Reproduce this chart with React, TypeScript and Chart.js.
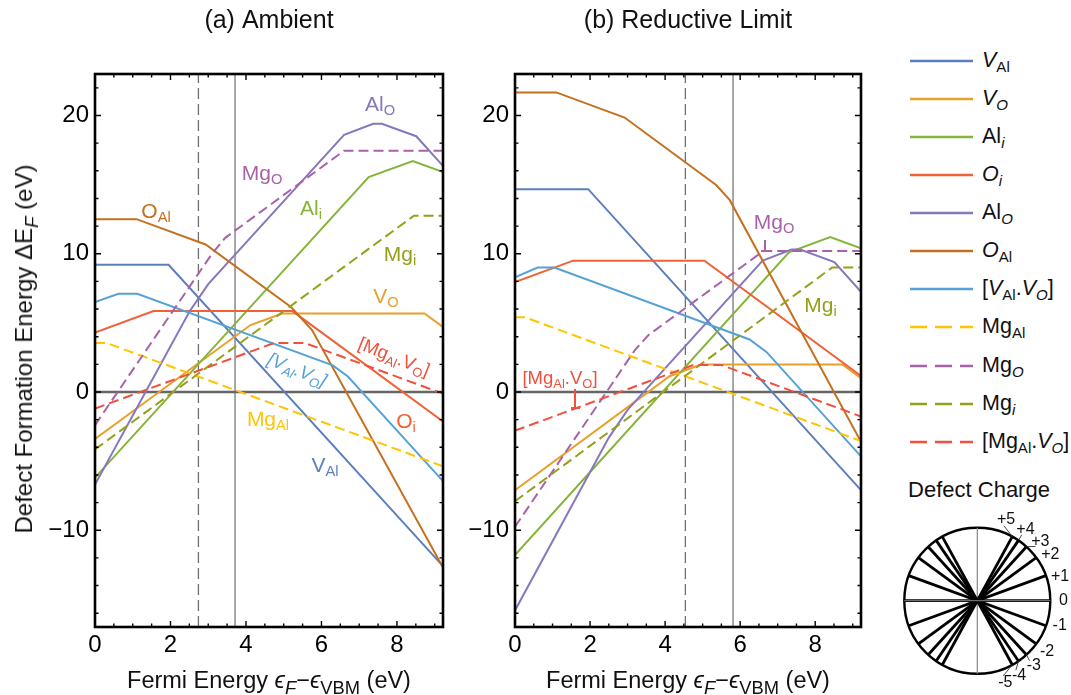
import React, { useEffect, useRef } from "react";
import { Chart, registerables } from "chart.js";

Chart.register(...registerables);

const FONT = '"Liberation Sans", Arial, Helvetica, sans-serif';

// ---------- axes ----------
const X_MIN = 0;
const X_MAX = 9.22;
const Y_MIN = -17;
const Y_MAX = 23;
const X_TICKS = [0, 2, 4, 6, 8];
const Y_TICKS = [-10, 0, 10, 20];
const X_MINOR_STEP = 0.5;
const Y_MINOR_STEP = 2;

// ---------- series ----------
const SERIES_NAMES = ["V_Al", "V_O", "Al_i", "O_i", "Al_O", "O_Al", "[V_Al.V_O]", "Mg_Al", "Mg_O", "Mg_i", "[Mg_Al.V_O]"];
const SERIES_COLORS = ["#5B7EBD", "#E8A02A", "#86B43A", "#F06236", "#8778BE", "#C4701E", "#56A2D4", "#FFC400", "#A863A8", "#95A01A", "#F0503C"];
const SERIES_DASHED = [false, false, false, false, false, false, false, true, true, true, true];

// ---------- (a) Ambient : [Fermi energy, formation energy] vertices ----------
const A_VAl = [[0, 9.2], [1.95, 9.2], [9.22, -12.6]];
const A_VO = [[0, -3.4], [4.12, 4.84], [4.96, 5.68], [8.73, 5.68], [9.22, 4.7]];
const A_Ali = [[0, -6.2], [7.25, 15.55], [8.42, 16.7], [9.22, 15.9]];
const A_Oi = [[0, 4.3], [1.55, 5.85], [5.23, 5.85], [9.22, -2.13]];
const A_AlO = [[0, -6.7], [2.5, 5.8], [3.0, 7.8], [6.6, 18.6], [7.37, 19.4], [7.6, 19.4], [8.51, 18.5], [9.22, 16.35]];
const A_OAl = [[0, 12.5], [1.1, 12.5], [2.93, 10.67], [5.2, 6.13], [5.75, 4.48], [9.22, -12.7]];
const A_VAlVO = [[0, 6.5], [0.62, 7.1], [1.12, 7.1], [6.3, 1.92], [6.7, 1.12], [9.22, -6.45]];
const A_MgAl = [[0, 3.55], [0.3, 3.55], [9.22, -5.37]];
const A_MgO = [[0, -2.4], [3.1, 10.0], [3.45, 11.15], [6.6, 17.45], [9.22, 17.45]];
const A_Mgi = [[0, -4.15], [8.45, 12.75], [9.22, 12.75]];
const A_MgAlVO = [[0, -1.2], [4.75, 3.55], [5.55, 3.55], [9.22, -0.12]];
const A_FERMI_DASHED = 2.74;
const A_FERMI_SOLID = 3.71;

// ---------- (b) Reductive limit ----------
const B_VAl = [[0, 14.67], [1.95, 14.67], [9.22, -7.1]];
const B_VO = [[0, -7.1], [4.12, 1.14], [4.96, 1.98], [8.73, 1.98], [9.22, 1.0]];
const B_Ali = [[0, -11.8], [7.3, 10.1], [8.4, 11.2], [9.22, 10.4]];
const B_Oi = [[0, 7.95], [1.55, 9.5], [5.05, 9.5], [9.22, 1.16]];
const B_AlO = [[0, -15.8], [2.5, -3.3], [3.0, -1.3], [6.6, 9.5], [7.37, 10.3], [7.6, 10.3], [8.51, 9.4], [9.22, 7.25]];
const B_OAl = [[0, 21.67], [1.1, 21.67], [2.92, 19.85], [5.36, 14.97], [5.72, 13.89], [9.22, -3.6]];
const B_VAlVO = [[0, 8.3], [0.6, 9.0], [1.05, 9.0], [6.25, 3.8], [6.7, 2.9], [9.22, -4.66]];
const B_MgAl = [[0, 5.4], [0.27, 5.4], [9.22, -3.55]];
const B_MgO = [[0, -9.75], [3.2, 3.05], [3.55, 4.1], [6.62, 10.2], [9.22, 10.2]];
const B_Mgi = [[0, -7.9], [8.45, 9.0], [9.22, 9.0]];
const B_MgAlVO = [[0, -2.8], [4.75, 1.95], [5.5, 1.95], [9.22, -1.77]];
const B_FERMI_DASHED = 4.54;
const B_FERMI_SOLID = 5.81;

const A_DATA = [A_VAl, A_VO, A_Ali, A_Oi, A_AlO, A_OAl, A_VAlVO, A_MgAl, A_MgO, A_Mgi, A_MgAlVO];
const B_DATA = [B_VAl, B_VO, B_Ali, B_Oi, B_AlO, B_OAl, B_VAlVO, B_MgAl, B_MgO, B_Mgi, B_MgAlVO];

// ---------- defect charge key ----------
const CHARGES = [5, 4, 3, 2, 1, 0, -1, -2, -3, -4, -5];
const CHARGE_LABELS = ["+5", "+4", "+3", "+2", "+1", "0", "-1", "-2", "-3", "-4", "-5"];
const CHARGE_LABEL_DEG = [70.5, 56, 43, 32, 16, 0, -17, -36, -49, -61, -71];

const fmtTick = (v: number) => (v < 0 ? "\u2212" + Math.abs(v) : String(v));

const MAJOR_LEN = 6;
const MINOR_LEN = 3.5;

const framePlugin = {
  id: "frame",
  afterDatasetsDraw(chart: any) {
    const { ctx, chartArea } = chart;
    const { left, right, top, bottom } = chartArea;
    const xs = chart.scales.x;
    const ys = chart.scales.y;
    ctx.save();
    ctx.strokeStyle = "#000";
    ctx.lineWidth = 1.4;
    ctx.beginPath();
    for (let v = X_MIN; v <= X_MAX + 1e-9; v += X_MINOR_STEP) {
      const p = xs.getPixelForValue(v);
      const len = X_TICKS.some((t) => Math.abs(t - v) < 1e-6) ? MAJOR_LEN : MINOR_LEN;
      ctx.moveTo(p, bottom);
      ctx.lineTo(p, bottom - len);
      ctx.moveTo(p, top);
      ctx.lineTo(p, top + len);
    }
    for (let v = Math.ceil(Y_MIN / Y_MINOR_STEP) * Y_MINOR_STEP; v <= Y_MAX + 1e-9; v += Y_MINOR_STEP) {
      const p = ys.getPixelForValue(v);
      const len = Y_TICKS.some((t) => Math.abs(t - v) < 1e-6) ? MAJOR_LEN : MINOR_LEN;
      ctx.moveTo(left, p);
      ctx.lineTo(left + len, p);
      ctx.moveTo(right, p);
      ctx.lineTo(right - len, p);
    }
    ctx.stroke();
    ctx.lineWidth = 2.6;
    ctx.strokeRect(left, top, right - left, bottom - top);
    ctx.restore();
  },
};

function panelConfig(title: string, data: number[][][], dashedX: number, solidX: number, rightPad: number, yWidth: number) {
  const datasets: any[] = data.map((pts, i) => ({
    label: SERIES_NAMES[i],
    data: pts.map(([x, y]) => ({ x, y })),
    borderColor: SERIES_COLORS[i],
    backgroundColor: SERIES_COLORS[i],
    borderWidth: 2,
    borderDash: SERIES_DASHED[i] ? [10, 5] : [],
    pointRadius: 0,
    showLine: true,
    fill: false,
    tension: 0,
    order: 50 - i,
  }));
  datasets.push({
    label: "zero",
    data: [{ x: X_MIN, y: 0 }, { x: X_MAX, y: 0 }],
    borderColor: "#666",
    borderWidth: 2.4,
    pointRadius: 0,
    showLine: true,
    order: 100,
  });
  datasets.push({
    label: "fermi dashed",
    data: [{ x: dashedX, y: Y_MIN }, { x: dashedX, y: Y_MAX }],
    borderColor: "#707070",
    borderWidth: 1.3,
    borderDash: [11, 5],
    pointRadius: 0,
    showLine: true,
    order: 100,
  });
  datasets.push({
    label: "fermi solid",
    data: [{ x: solidX, y: Y_MIN }, { x: solidX, y: Y_MAX }],
    borderColor: "#606060",
    borderWidth: 1.1,
    pointRadius: 0,
    showLine: true,
    order: 100,
  });
  return {
    type: "scatter" as const,
    data: { datasets },
    options: {
      animation: false as const,
      responsive: false,
      events: [] as any[],
      layout: { padding: { left: 0, right: rightPad, top: 0, bottom: 0 } },
      plugins: {
        legend: { display: false },
        tooltip: { enabled: false },
        title: {
          display: true,
          text: title,
          fullSize: false,
          color: "#111",
          font: { family: FONT, size: 25, weight: "normal" as const, lineHeight: 1.2 },
          padding: { top: 6.5, bottom: 37.5 },
        },
      },
      scales: {
        x: {
          type: "linear" as const,
          min: X_MIN,
          max: X_MAX,
          grid: { display: false, drawTicks: false },
          border: { display: false },
          afterBuildTicks: (s: any) => {
            s.ticks = X_TICKS.map((v) => ({ value: v }));
          },
          afterFit: (s: any) => {
            s.height = 68;
          },
          ticks: {
            color: "#000",
            font: { family: FONT, size: 24 },
            padding: 4,
            maxRotation: 0,
            autoSkip: false,
            callback: (v: any) => fmtTick(Number(v)),
          },
        },
        y: {
          type: "linear" as const,
          min: Y_MIN,
          max: Y_MAX,
          grid: { display: false, drawTicks: false },
          border: { display: false },
          afterBuildTicks: (s: any) => {
            s.ticks = Y_TICKS.map((v) => ({ value: v }));
          },
          afterFit: (s: any) => {
            s.width = yWidth;
          },
          ticks: {
            color: "#000",
            font: { family: FONT, size: 24 },
            padding: 6,
            autoSkip: false,
            callback: (v: any) => fmtTick(Number(v)),
          },
        },
      },
    },
    plugins: [framePlugin],
  };
}

// defect-charge key geometry (layout)
const KEY_LEFT = 880;
const KEY_TOP = 505;
const KEY_W = 191;
const KEY_H = 190;
const KEY_CX = 977.3;
const KEY_CY = 600.7;
const KEY_R = 73;
const KEY_LABEL_DIST = 1.18;

function keyConfig(aspect: number) {
  const datasets: any[] = CHARGES.map((q) => {
    const t = Math.atan(q * aspect);
    return {
      label: "q" + q,
      data: [
        { x: -Math.cos(t), y: -Math.sin(t) },
        { x: Math.cos(t), y: Math.sin(t) },
      ],
      borderColor: "#000",
      borderWidth: 2.8,
      pointRadius: 0,
      showLine: true,
    };
  });
  const keyPlugin = {
    id: "key",
    beforeDatasetsDraw(chart: any) {
      const { ctx } = chart;
      const xs = chart.scales.x;
      const ys = chart.scales.y;
      const cx = xs.getPixelForValue(0);
      const cy = ys.getPixelForValue(0);
      const r = xs.getPixelForValue(1) - cx;
      ctx.save();
      ctx.strokeStyle = "#000";
      ctx.lineWidth = 2.4;
      ctx.beginPath();
      ctx.arc(cx, cy, r, 0, Math.PI * 2);
      ctx.stroke();
      ctx.strokeStyle = "#888";
      ctx.lineWidth = 1.2;
      ctx.beginPath();
      ctx.moveTo(cx, cy - r);
      ctx.lineTo(cx, cy + r);
      ctx.stroke();
      ctx.restore();
    },
    afterDatasetsDraw(chart: any) {
      const { ctx } = chart;
      const xs = chart.scales.x;
      const ys = chart.scales.y;
      ctx.save();
      ctx.strokeStyle = "#888";
      ctx.lineWidth = 1;
      ctx.beginPath();
      ctx.moveTo(xs.getPixelForValue(-1), ys.getPixelForValue(0));
      ctx.lineTo(xs.getPixelForValue(1), ys.getPixelForValue(0));
      ctx.stroke();
      ctx.fillStyle = "#111";
      ctx.font = `16px ${FONT}`;
      ctx.textAlign = "center";
      ctx.textBaseline = "middle";
      ctx.strokeStyle = "#333";
      ctx.lineWidth = 0.9;
      CHARGES.forEach((q, i) => {
        const phi = (CHARGE_LABEL_DEG[i] * Math.PI) / 180;
        const lx = xs.getPixelForValue(KEY_LABEL_DIST * Math.cos(phi));
        const ly = ys.getPixelForValue(KEY_LABEL_DIST * Math.sin(phi));
        ctx.fillText(CHARGE_LABELS[i], lx, ly);
        if (Math.abs(q) >= 3) {
          const t = Math.atan(q * aspect);
          ctx.beginPath();
          ctx.moveTo(xs.getPixelForValue(Math.cos(t)), ys.getPixelForValue(Math.sin(t)));
          ctx.lineTo(xs.getPixelForValue(1.09 * Math.cos(phi)), ys.getPixelForValue(1.09 * Math.sin(phi)));
          ctx.stroke();
        }
      });
      ctx.restore();
    },
  };
  return {
    type: "scatter" as const,
    data: { datasets },
    options: {
      animation: false as const,
      responsive: false,
      events: [] as any[],
      layout: { padding: 0 },
      plugins: { legend: { display: false }, tooltip: { enabled: false } },
      scales: {
        x: { type: "linear" as const, display: false, min: (KEY_LEFT - KEY_CX) / KEY_R, max: (KEY_LEFT + KEY_W - KEY_CX) / KEY_R },
        y: { type: "linear" as const, display: false, min: -(KEY_TOP + KEY_H - KEY_CY) / KEY_R, max: (KEY_CY - KEY_TOP) / KEY_R },
      },
    },
    plugins: [keyPlugin],
  };
}

const SUB: React.CSSProperties = { fontSize: "0.7em", verticalAlign: "-0.32em", lineHeight: 0 };
const SUB_AX: React.CSSProperties = { fontSize: "0.78em", verticalAlign: "-0.3em", lineHeight: 0 };

function Lbl(props: { x: number; y: number; color: string; size?: number; rot?: number; italic?: boolean; children: any }) {
  const { x, y, color, size = 21, rot = 0, italic = false, children } = props;
  return (
    <div
      style={{
        position: "absolute",
        left: x,
        top: y,
        transform: `translate(-50%,-50%) rotate(${rot}deg)`,
        color,
        fontSize: size,
        lineHeight: 1,
        whiteSpace: "nowrap",
        fontStyle: italic ? "italic" : "normal",
        fontFamily: FONT,
      }}
    >
      {children}
    </div>
  );
}

const LEGEND_TOP = 60.7;
const LEGEND_STEP = 38.1;

const LEGEND_LABELS = [
  <><i>V</i><sub style={SUB}>Al</sub></>,
  <><i>V</i><sub style={SUB}><i>O</i></sub></>,
  <>Al<sub style={SUB}><i>i</i></sub></>,
  <><i>O</i><sub style={SUB}><i>i</i></sub></>,
  <>Al<sub style={SUB}><i>O</i></sub></>,
  <><i>O</i><sub style={SUB}>Al</sub></>,
  <>[<i>V</i><sub style={SUB}>Al</sub>.<i>V</i><sub style={SUB}><i>O</i></sub>]</>,
  <>Mg<sub style={SUB}>Al</sub></>,
  <>Mg<sub style={SUB}><i>O</i></sub></>,
  <>Mg<sub style={SUB}><i>i</i></sub></>,
  <>[Mg<sub style={SUB}>Al</sub>.<i>V</i><sub style={SUB}><i>O</i></sub>]</>,
];

const xTitle = (
  <>
    Fermi Energy <i>ϵ</i>
    <sub style={SUB_AX}><i>F</i></sub>−<i>ϵ</i>
    <sub style={SUB_AX}>VBM</sub> (eV)
  </>
);

function Pointer({ x, y1, y2, color }: { x: number; y1: number; y2: number; color: string }) {
  return (
    <>
      <div style={{ position: "absolute", left: x - 0.6, top: y1, width: 1.3, height: y2 - y1, background: color }} />
      <div style={{ position: "absolute", left: x - 4.5, top: y2 - 0.6, width: 9, height: 1.3, background: color }} />
    </>
  );
}

export default function App() {
  const refA = useRef<HTMLCanvasElement>(null);
  const refB = useRef<HTMLCanvasElement>(null);
  const refK = useRef<HTMLCanvasElement>(null);

  useEffect(() => {
    const ca = new Chart(refA.current as HTMLCanvasElement, panelConfig("(a) Ambient", A_DATA, A_FERMI_DASHED, A_FERMI_SOLID, 17, 95) as any);
    const cb = new Chart(refB.current as HTMLCanvasElement, panelConfig("(b) Reductive Limit", B_DATA, B_FERMI_DASHED, B_FERMI_SOLID, 19, 55) as any);
    const xs: any = ca.scales.x;
    const ys: any = ca.scales.y;
    const aspect = (ys.getPixelForValue(0) - ys.getPixelForValue(1)) / (xs.getPixelForValue(1) - xs.getPixelForValue(0));
    const ck = new Chart(refK.current as HTMLCanvasElement, keyConfig(aspect) as any);
    return () => {
      ca.destroy();
      cb.destroy();
      ck.destroy();
    };
  }, []);

  const C = SERIES_COLORS;
  return (
    <div style={{ position: "absolute", left: 0, top: 0, width: 1071, height: 695, overflow: "hidden", background: "#fff", fontFamily: FONT }}>
      <canvas ref={refA} width={460} height={695} style={{ position: "absolute", left: 0, top: 0, width: 460, height: 695 }} />
      <canvas ref={refB} width={420} height={695} style={{ position: "absolute", left: 460, top: 0, width: 420, height: 695 }} />
      <canvas ref={refK} width={KEY_W} height={KEY_H} style={{ position: "absolute", left: KEY_LEFT, top: KEY_TOP, width: KEY_W, height: KEY_H }} />

      {/* axis titles */}
      <Lbl x={269} y={681} color="#111" size={23.5}>{xTitle}</Lbl>
      <Lbl x={688} y={681} color="#111" size={23.5}>{xTitle}</Lbl>
      <Lbl x={23.5} y={349} color="#111" size={24} rot={-90}>
        <>Defect Formation Energy ΔE<sub style={SUB_AX}><i>F</i></sub> (eV)</>
      </Lbl>

      {/* panel (a) labels */}
      <Lbl x={380} y={102.5} color={C[4]}>Al<sub style={SUB}>O</sub></Lbl>
      <Lbl x={262} y={172} color={C[8]}>Mg<sub style={SUB}>O</sub></Lbl>
      <Lbl x={311} y={207} color={C[2]}>Al<sub style={SUB}>i</sub></Lbl>
      <Lbl x={156} y={209.5} color={C[5]}>O<sub style={SUB}>Al</sub></Lbl>
      <Lbl x={400} y={253} color={C[9]}>Mg<sub style={SUB}>i</sub></Lbl>
      <Lbl x={386} y={294.5} color={C[1]}>V<sub style={SUB}>O</sub></Lbl>
      <Lbl x={394} y={357} color={C[10]} size={18.5} rot={22}>[Mg<sub style={SUB}>Al</sub>.V<sub style={SUB}>O</sub>]</Lbl>
      <Lbl x={297} y={370} color={C[6]} size={18.5} rot={22} italic>[V<sub style={SUB}>Al</sub>.V<sub style={SUB}>O</sub>]</Lbl>
      <Lbl x={406} y={419.5} color={C[3]}>O<sub style={SUB}>i</sub></Lbl>
      <Lbl x={268} y={417.5} color={C[7]}>Mg<sub style={SUB}>Al</sub></Lbl>
      <Lbl x={325} y={464} color={C[0]}>V<sub style={SUB}>Al</sub></Lbl>

      {/* panel (b) labels */}
      <Lbl x={774} y={220.5} color={C[8]}>Mg<sub style={SUB}>O</sub></Lbl>
      <Pointer x={765} y1={240} y2={251} color={C[8]} />
      <Lbl x={820.5} y={303.5} color={C[9]}>Mg<sub style={SUB}>i</sub></Lbl>
      <Lbl x={560} y={377.5} color={C[10]} size={18.5}>[Mg<sub style={SUB}>Al</sub>.V<sub style={SUB}>O</sub>]</Lbl>
      <Pointer x={575} y1={389} y2={408} color={C[10]} />

      {/* legend */}
      {LEGEND_LABELS.map((lab, i) => {
        const cy = LEGEND_TOP + i * LEGEND_STEP;
        return (
          <React.Fragment key={i}>
            <svg style={{ position: "absolute", left: 910, top: cy - 3, width: 63, height: 6 }} width={63} height={6}>
              <line x1={0} y1={3} x2={63} y2={3} stroke={C[i]} strokeWidth={2.4} strokeDasharray={SERIES_DASHED[i] ? "17 8" : undefined} />
            </svg>
            <div style={{ position: "absolute", left: 982, top: cy, transform: "translateY(-50%)", fontSize: 21.5, lineHeight: 1, whiteSpace: "nowrap", color: "#111" }}>
              {lab}
            </div>
          </React.Fragment>
        );
      })}

      {/* defect charge title */}
      <Lbl x={979} y={490} color="#111" size={22}>Defect Charge</Lbl>
    </div>
  );
}
